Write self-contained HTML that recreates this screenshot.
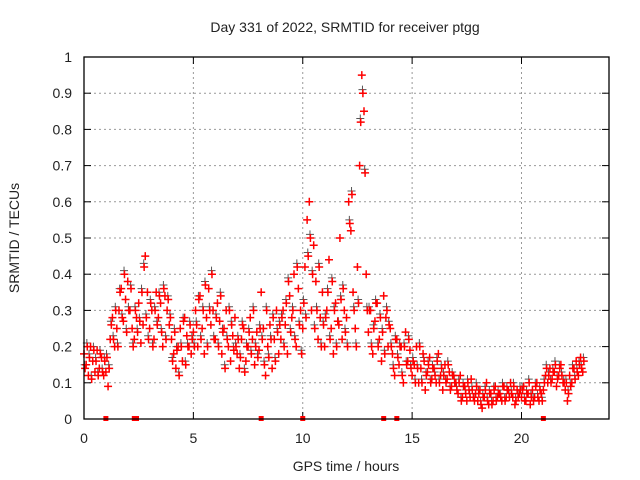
<!DOCTYPE html>
<html><head><meta charset="utf-8"><style>
body{margin:0;background:#fff}
svg{display:block;font-family:"Liberation Sans",sans-serif}
</style></head><body>
<svg id="c" width="640" height="480" xmlns="http://www.w3.org/2000/svg">
<rect width="640" height="480" fill="#fff"/>
<text x="345" y="32" text-anchor="middle" font-size="14" fill="#222">Day 331 of 2022, SRMTID for receiver ptgg</text>
<text x="346" y="471" text-anchor="middle" font-size="14" fill="#222">GPS time / hours</text>
<text transform="translate(19,238) rotate(-90)" text-anchor="middle" font-size="14" fill="#222">SRMTID / TECUs</text>
<g id="grid"></g><g id="marks"></g>
<rect x="84" y="57" width="525" height="362" fill="none" stroke="#000" stroke-width="1.3"/>
</svg>
<script>
const xTicks=[0,5,10,15,20];
const yTicks=[0,0.1,0.2,0.3,0.4,0.5,0.6,0.7,0.8,0.9,1];
const yTickLabels=["0","0.1","0.2","0.3","0.4","0.5","0.6","0.7","0.8","0.9","1"];
const seriesA=[.18,.15,.12,.2,.16,.13,.19,.14,.17,.12,
.13,.09,.22,.28,.2,.25,.3,.36,.27,.33,
.38,.3,.25,.22,.28,.32,.21,.26,.45,.35,
.25,.3,.22,.35,.28,.32,.2,.34,.3,.26,
.22,.18,.14,.2,.25,.16,.28,.23,.2,.18,
.24,.3,.2,.34,.25,.18,.28,.36,.26,.3,
.22,.32,.27,.18,.25,.3,.2,.16,.23,.28,
.18,.14,.22,.25,.16,.2,.28,.22,.15,.24,
.19,.35,.25,.12,.2,.26,.14,.22,.3,.18,
.22,.3,.26,.18,.34,.28,.4,.2,.36,.3,
.25,.42,.55,.6,.3,.48,.38,.22,.28,.35,
.2,.3,.44,.25,.18,.32,.27,.5,.22,.3,
.28,.6,.52,.35,.25,.42,.7,.95,.85,.4,
.24,.3,.18,.27,.32,.22,.16,.34,.28,.2,
.25,.18,.12,.22,.15,.2,.1,.24,.16,.19,
.12,.15,.2,.1,.14,.18,.08,.13,.17,.11,
.14,.1,.18,.12,.08,.15,.11,.13,.09,.12,
.1,.07,.12,.06,.09,.05,.08,.11,.06,.07,
.05,.08,.03,.06,.1,.04,.07,.05,.09,.06,
.07,.05,.09,.06,.08,.1,.06,.04,.08,.07,
.06,.09,.05,.07,.04,.08,.06,.1,.05,.07,
.08,.12,.1,.14,.11,.13,.09,.12,.15,.1,
.08,.05,.12,.1,.14,.16,.12,.17,.13];
const seriesB=[.14,.2,.17,.11,.19,.16,.12,.18,.13,.16,
.17,.14,.26,.22,.3,.2,.35,.28,.4,.24,
.3,.36,.2,.3,.24,.27,.35,.42,.28,.22,
.32,.2,.3,.26,.34,.24,.36,.22,.33,.28,
.16,.24,.19,.12,.2,.27,.15,.2,.26,.22,
.2,.26,.33,.22,.3,.37,.2,.3,.4,.22,
.28,.2,.34,.24,.14,.22,.3,.26,.19,.2,
.22,.17,.26,.13,.2,.24,.18,.3,.2,.17,
.25,.22,.15,.3,.17,.22,.28,.16,.24,.26,
.28,.2,.32,.38,.24,.3,.22,.42,.26,.18,
.32,.28,.45,.5,.4,.25,.3,.42,.2,.26,
.28,.35,.22,.38,.3,.2,.26,.33,.36,.24,
.2,.54,.62,.3,.2,.32,.82,.9,.68,.3,
.3,.2,.25,.32,.2,.28,.24,.18,.3,.26,
.2,.14,.22,.17,.2,.12,.2,.15,.22,.14,
.16,.1,.14,.2,.1,.16,.12,.15,.1,.14,
.12,.16,.1,.14,.12,.1,.15,.08,.12,.1,
.08,.1,.05,.09,.07,.1,.06,.08,.05,.09,
.07,.04,.06,.08,.05,.07,.04,.08,.05,.07,
.06,.09,.05,.08,.06,.07,.09,.05,.06,.08,
.08,.05,.07,.1,.06,.05,.09,.06,.08,.05,
.1,.14,.12,.1,.13,.15,.11,.14,.12,.1,
.1,.07,.09,.14,.11,.13,.15,.14,.16];
const zeroTimes=[1.0,2.3,2.4,8.1,10.0,13.7,14.3,21.0];
const T0=0, DT=0.1;
const X=t=>84+t*(525/24);
const Y=v=>419-v*362;
const NS="http://www.w3.org/2000/svg";
const grid=document.getElementById('grid'), marks=document.getElementById('marks');
function mk(tag,attrs,parent){const e=document.createElementNS(NS,tag);for(const k in attrs)e.setAttribute(k,attrs[k]);parent.appendChild(e);return e;}
yTicks.forEach((v,i)=>{
  if(v>0&&v<1){const g=mk('line',{x1:84,x2:609,y1:Y(v),y2:Y(v),stroke:'#999','stroke-dasharray':'2,3','stroke-width':1},grid);
  
  }
  mk('line',{x1:84,x2:91,y1:Y(v),y2:Y(v),stroke:'#000'},grid);
  mk('line',{x1:602,x2:609,y1:Y(v),y2:Y(v),stroke:'#000'},grid);
  const t=mk('text',{x:72,y:Y(v)+5,'text-anchor':'end','font-size':14,fill:'#222'},grid);
  t.textContent=yTickLabels[i];
  
  
});
xTicks.forEach(h=>{
  if(h>0){const g=mk('line',{x1:X(h),x2:X(h),y1:57,y2:419,stroke:'#999','stroke-dasharray':'2,3','stroke-width':1},grid);
  
  }
  mk('line',{x1:X(h),x2:X(h),y1:412,y2:419,stroke:'#000'},grid);
  mk('line',{x1:X(h),x2:X(h),y1:57,y2:64,stroke:'#000'},grid);
  const t=mk('text',{x:X(h),y:443,'text-anchor':'middle','font-size':14,fill:'#222'},grid);
  t.textContent=String(h);
  
  
});
function plus(arr,off,color,dv,name,w){
  let d='';
  arr.forEach((v,i)=>{const x=X(T0+i*DT+off),y=Y(v+dv);d+=`M${x-4},${y}h8M${x},${y-4}v8`;});
  const p=mk('path',{d:d,stroke:color,'stroke-width':w,fill:'none'},marks);
  
  
}
plus(seriesB,0.03,'#555',0.01,'dark-series-markers',1);
plus(seriesA,0,'#f00',0,'srmtid-markers-a',1.5);
plus(seriesB,0.05,'#f00',0,'srmtid-markers-b',1.5);
zeroTimes.forEach(t=>{
  const r=mk('rect',{x:X(t)-2.5,y:Y(0)-3,width:5,height:5,fill:'#f00'},marks);
  
  
});
</script>
</body></html>
